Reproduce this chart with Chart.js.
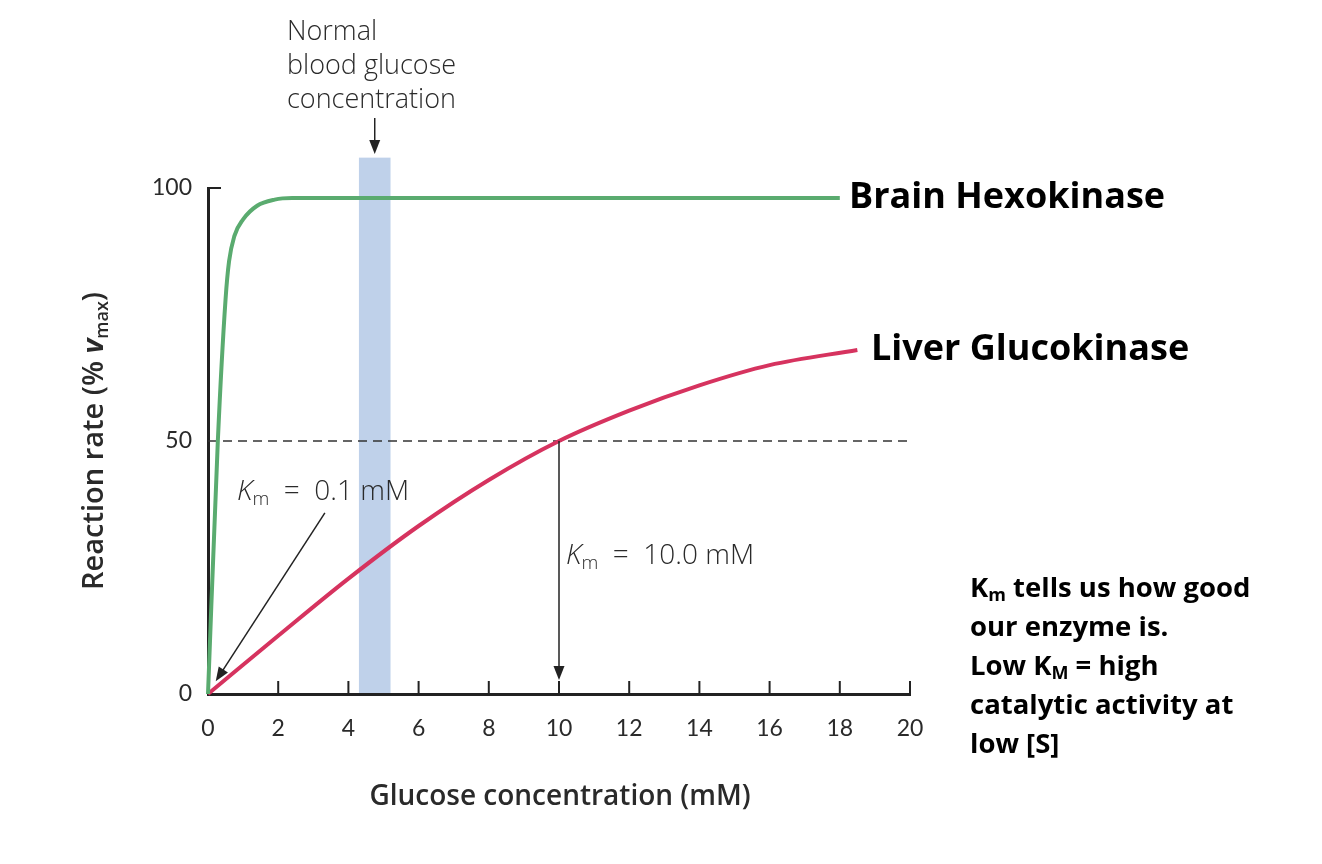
<!DOCTYPE html>
<html>
<head>
<meta charset="utf-8">
<script src="https://cdn.jsdelivr.net/npm/chart.js@4"></script>
<style>
  html, body { margin: 0; padding: 0; background: #fff; }
  #wrap { width: 1322px; height: 864px; position: relative; }
</style>
</head>
<body>
<div id="wrap"><canvas id="myChart" width="1322" height="864"></canvas></div>
<script>
'use strict'

// glucose concentration (mM) vs reaction rate (% vmax)
let brainX = [0, 0.28, 0.5, 0.6, 0.75, 1.0, 1.4, 1.9, 2.4, 18];
let brainY = [0, 50, 78, 85.5, 90.5, 93.8, 96.5, 97.7, 98, 98];

let liverX = [0, 2, 4, 6, 8, 10, 12, 14, 16, 18.5];
let liverY = [0, 11.5, 22.8, 33.2, 42.3, 50, 56, 61, 65, 68];

let halfLineX = [0, 20];
let halfLineY = [50, 50];

let xTicks = [0, 2, 4, 6, 8, 10, 12, 14, 16, 18, 20];
let yTicks = [0, 50, 100];

let bandFrom = 4.3;
let bandTo = 5.2;
let bandTop = 106;

let kmBrain = 0.1;
let kmLiver = 10;

function toPoints(xs, ys) {
  return xs.map(function (x, i) { return { x: x, y: ys[i] }; });
}

let lightFont = '"Open Sans", Lato, sans-serif';
let boldFont = '"Open Sans", "Noto Sans", sans-serif';

function drawParts(ctx, parts, x, y, align) {
  let total = 0;
  parts.forEach(function (p) { ctx.font = p.font; total += ctx.measureText(p.text).width; });
  let cx = align === 'center' ? x - total / 2 : x;
  parts.forEach(function (p) {
    ctx.font = p.font;
    ctx.fillText(p.text, cx, y + (p.dy || 0));
    cx += ctx.measureText(p.text).width;
  });
}

function arrowHead(ctx, x1, y1, x2, y2, len, wid) {
  let a = Math.atan2(y2 - y1, x2 - x1);
  ctx.beginPath();
  ctx.moveTo(x2, y2);
  ctx.lineTo(x2 - len * Math.cos(a) + wid / 2 * Math.sin(a), y2 - len * Math.sin(a) - wid / 2 * Math.cos(a));
  ctx.lineTo(x2 - len * Math.cos(a) - wid / 2 * Math.sin(a), y2 - len * Math.sin(a) + wid / 2 * Math.cos(a));
  ctx.closePath();
  ctx.fill();
}

function arrow(ctx, x1, y1, x2, y2) {
  let a = Math.atan2(y2 - y1, x2 - x1);
  ctx.beginPath();
  ctx.moveTo(x1, y1);
  ctx.lineTo(x2 - 10 * Math.cos(a), y2 - 10 * Math.sin(a));
  ctx.stroke();
  arrowHead(ctx, x1, y1, x2, y2, 14, 11);
}

let extras = {
  id: 'extras',
  beforeDraw: function (chart) {
    let ctx = chart.ctx;
    let xs = chart.scales.x, ys = chart.scales.y;
    ctx.save();
    ctx.fillStyle = '#bfd1ea';
    let l = xs.getPixelForValue(bandFrom), r = xs.getPixelForValue(bandTo);
    let t = ys.getPixelForValue(bandTop), b = ys.getPixelForValue(0);
    ctx.fillRect(l, t, r - l, b - t);
    ctx.restore();
  },
  afterDraw: function (chart) {
    let ctx = chart.ctx;
    let xs = chart.scales.x, ys = chart.scales.y;
    let area = chart.chartArea;
    ctx.save();
    // inward tick marks
    ctx.strokeStyle = '#222';
    ctx.lineWidth = 2;
    xs.ticks.forEach(function (tk) {
      if (tk.value === 0) return;
      let px = xs.getPixelForValue(tk.value);
      ctx.beginPath();
      ctx.moveTo(px, area.bottom);
      ctx.lineTo(px, area.bottom - 13);
      ctx.stroke();
    });
    ctx.beginPath();
    ctx.moveTo(area.left, ys.getPixelForValue(100));
    ctx.lineTo(area.left + 13, ys.getPixelForValue(100));
    ctx.stroke();

    ctx.fillStyle = '#222';
    ctx.strokeStyle = '#222';
    ctx.lineWidth = 1.5;
    // Km arrows
    arrow(ctx, xs.getPixelForValue(kmLiver), ys.getPixelForValue(50),
      xs.getPixelForValue(kmLiver), ys.getPixelForValue(0) - 14);
    arrow(ctx, xs.getPixelForValue(3.33), ys.getPixelForValue(35.8),
      xs.getPixelForValue(kmBrain + 0.12), ys.getPixelForValue(2.5));
    // band arrow
    let bc = xs.getPixelForValue((bandFrom + bandTo) / 2);
    arrow(ctx, bc, 118, bc, 154);

    ctx.textBaseline = 'middle';
    ctx.textAlign = 'left';
    ctx.fillStyle = '#2a2a2a';
    ctx.font = '300 27px ' + lightFont;
    ctx.fillText('Normal', 287, 32);
    ctx.fillText('blood glucose', 287, 66);
    ctx.fillText('concentration', 287, 100);

    let lf = '300 28px ' + lightFont;
    drawParts(ctx, [
      { text: 'K', font: 'italic 300 28px ' + lightFont },
      { text: 'm', font: '300 19px ' + lightFont, dy: 8 },
      { text: '  =  ', font: lf },
      { text: '0.1 mM', font: lf }
    ], 237, 492);
    drawParts(ctx, [
      { text: 'K', font: 'italic 300 28px ' + lightFont },
      { text: 'm', font: '300 19px ' + lightFont, dy: 8 },
      { text: '  =  ', font: lf },
      { text: '10.0 mM', font: lf }
    ], 566, 556);

    ctx.fillStyle = '#000';
    ctx.font = 'bold 36px ' + boldFont;
    ctx.fillText('Brain Hexokinase', 849, 198);
    ctx.fillText('Liver Glucokinase', 871, 350);

    let bf = 'bold 27.5px ' + boldFont, sf = 'bold 18px ' + boldFont;
    drawParts(ctx, [{ text: 'K', font: bf }, { text: 'm', font: sf, dy: 7 }, { text: ' tells us how good', font: bf }], 970, 589);
    drawParts(ctx, [{ text: 'our enzyme is.', font: bf }], 970, 628);
    drawParts(ctx, [{ text: 'Low K', font: bf }, { text: 'M', font: sf, dy: 7 }, { text: ' = high', font: bf }], 970, 667);
    drawParts(ctx, [{ text: 'catalytic activity at', font: bf }], 970, 706);
    drawParts(ctx, [{ text: 'low [S]', font: bf }], 970, 745);

    // axis titles
    ctx.fillStyle = '#2a2a2a';
    drawParts(ctx, [{ text: 'Glucose concentration (mM)', font: '600 28px ' + boldFont }], 560, 797, 'center');
    ctx.translate(95, 441);
    ctx.rotate(-Math.PI / 2);
    let tf = '600 29px ' + boldFont;
    drawParts(ctx, [
      { text: 'Reaction rate (% ', font: tf },
      { text: 'v', font: 'italic 700 29px ' + boldFont },
      { text: 'max', font: '600 18px ' + boldFont, dy: 8 },
      { text: ')', font: tf }
    ], 0, 0, 'center');
    ctx.restore();
  }
};

const data = {
  datasets: [
    {
      label: 'Brain Hexokinase',
      data: toPoints(brainX, brainY),
      borderColor: '#5aab6f',
      borderWidth: 4,
      cubicInterpolationMode: 'monotone',
      pointRadius: 0,
      clip: false
    },
    {
      label: 'Liver Glucokinase',
      data: toPoints(liverX, liverY),
      borderColor: '#d6335f',
      borderWidth: 4,
      cubicInterpolationMode: 'monotone',
      pointRadius: 0,
      clip: false
    },
    {
      label: 'Half vmax',
      data: toPoints(halfLineX, halfLineY),
      borderColor: '#333',
      borderWidth: 1.5,
      borderDash: [9, 6],
      pointRadius: 0,
      clip: false
    }
  ]
};

const config = {
  type: 'line',
  data: data,
  options: {
    responsive: false,
    animation: false,
    layout: { padding: { left: 0, top: 188, right: 412, bottom: 0 } },
    plugins: { legend: { display: false }, tooltip: { enabled: false } },
    scales: {
      x: {
        type: 'linear',
        min: 0,
        max: 20,
        afterBuildTicks: function (scale) { scale.ticks = xTicks.map(function (v) { return { value: v }; }); },
        afterFit: function (scale) { scale.height = 170; },
        grid: { display: false },
        border: { display: true, color: '#222', width: 3 },
        ticks: { color: '#2a2a2a', padding: 13, font: { family: 'Lato', size: 23 }, maxRotation: 0 }
      },
      y: {
        type: 'linear',
        min: 0,
        max: 100,
        afterBuildTicks: function (scale) { scale.ticks = yTicks.map(function (v) { return { value: v }; }); },
        afterFit: function (scale) { scale.width = 208; },
        grid: { display: false },
        border: { display: true, color: '#222', width: 3 },
        ticks: { color: '#2a2a2a', padding: 8, font: { family: 'Lato', size: 23 } }
      }
    }
  },
  plugins: [extras]
};

var myChart = new Chart(document.getElementById('myChart'), config);
</script>
</body>
</html>
